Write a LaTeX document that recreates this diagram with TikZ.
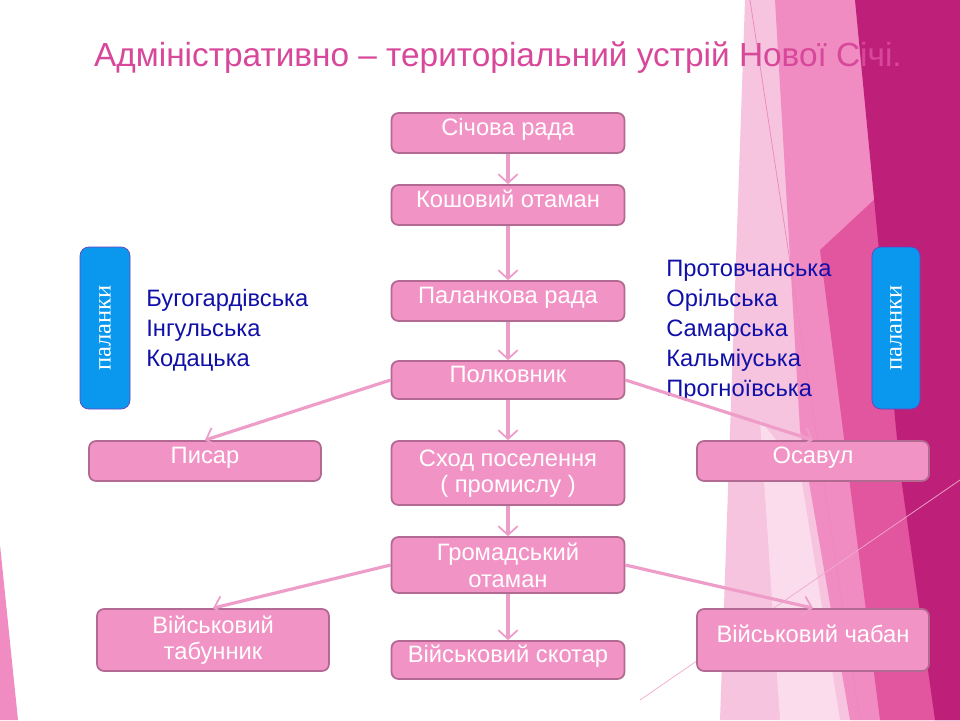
\documentclass[tikz,border=0pt]{standalone}
\usepackage{fontspec}
\setmainfont{Liberation Sans}
\newfontfamily\palfont{Liberation Serif}
\usetikzlibrary{arrows.meta}
\definecolor{boxfill}{HTML}{F293C5}
\definecolor{boxdraw}{HTML}{B36A92}
\definecolor{arr}{HTML}{EE9CC8}
\definecolor{titlec}{HTML}{D8489A}
\definecolor{listc}{HTML}{1010A8}
\definecolor{blueb}{HTML}{0A98EE}
\definecolor{pk1}{HTML}{F7C4DF}
\definecolor{pk2}{HTML}{F08CC2}
\definecolor{pk3}{HTML}{E2559F}
\definecolor{pk4}{HTML}{BE1F78}
\begin{document}
\begin{tikzpicture}[x=0.02cm,y=-0.02cm,
  box/.style={draw=boxdraw,line width=1pt,fill=boxfill,rounded corners=4pt,text=white,font=\fontsize{13.5}{15}\selectfont,align=center,inner sep=0pt},
  one/.style={text height=0.58em,text depth=0.34em},
  pal/.style={draw=boxdraw!60!blue,fill=blueb,rounded corners=5pt,text=white,font=\palfont\fontsize{14}{16}\selectfont,inner sep=0pt},
  conn/.style={draw=arr,line width=1.8pt,-{Straight Barb[length=5pt,width=11pt,line width=1pt]}},
  lst/.style={text=listc,font=\fontsize{13.5}{17}\selectfont,align=left,anchor=north west,inner sep=0pt}]
\useasboundingbox (0,0) rectangle (960,720);
% background
\fill[white] (0,0) rectangle (960,720);
\fill[pk1] (745,0) -- (960,0) -- (960,720) -- (720,720) -- cycle;
\fill[pk2] (775,0) -- (960,0) -- (960,720) -- (850,720) -- (800,430) -- cycle;
\fill[pk3] (820,250) -- (960,120) -- (960,720) -- (880,720) -- cycle;
\fill[pk4] (855,0) -- (960,0) -- (960,720) -- (935,720) -- (900,470) -- cycle;
\fill[pk1!60!white] (760,420) -- (800,470) -- (840,720) -- (780,720) -- cycle;
\draw[pk3!70!white,line width=0.4pt] (750,0) -- (860,720);
\draw[pk3!50!white,line width=0.4pt] (640,700) -- (960,480);
\fill[pk2] (0,545) -- (18,720) -- (0,720) -- cycle;
% title
\node[text=titlec,font=\fontsize{19}{22}\selectfont] (title) at (498,58) {Адміністративно – територіальний устрій Нової Січі.};
% boxes
\node[box,one,minimum width=233*0.02cm,minimum height=40*0.02cm] (sr) at (508,133) {Січова рада};
\node[box,one,minimum width=233*0.02cm,minimum height=40*0.02cm] (ko) at (508,205) {Кошовий отаман};
\node[box,one,minimum width=233*0.02cm,minimum height=40*0.02cm] (pr) at (508,301) {Паланкова рада};
\node[box,one,minimum width=233*0.02cm,minimum height=38*0.02cm] (po) at (508,380) {Полковник};
\node[box,one,minimum width=232*0.02cm,minimum height=40*0.02cm] (pys) at (205,461) {Писар};
\node[box,minimum width=233*0.02cm,minimum height=64*0.02cm] (sh) at (508,473) {\strut Сход поселення\\( промислу )};
\node[box,one,minimum width=232*0.02cm,minimum height=40*0.02cm] (os) at (813,461) {Осавул};
\node[box,minimum width=233*0.02cm,minimum height=56*0.02cm] (ho) at (508,565) {\strut Громадський\\отаман};
\node[box,minimum width=232*0.02cm,minimum height=62*0.02cm] (tab) at (213,640) {\strut Військовий\\табунник};
\node[box,one,minimum width=233*0.02cm,minimum height=38*0.02cm] (sk) at (508,660) {Військовий скотар};
\node[box,one,minimum width=232*0.02cm,minimum height=62*0.02cm] (ch) at (813,640) {Військовий чабан};
\node[pal,minimum width=50*0.02cm,minimum height=162*0.02cm] (pl) at (105,328) {};
\node[rotate=90,text=white,font=\palfont\fontsize{14}{16}\selectfont] at (pl) {паланки};
\node[pal,minimum width=48*0.02cm,minimum height=162*0.02cm] (pr2) at (896,328) {};
\node[rotate=90,text=white,font=\palfont\fontsize{14}{16}\selectfont] at (pr2) {паланки};
\node[lst] (ll) at (146,289) {Бугогардівська\\Інгульська\\Кодацька};
\node[lst] (rl) at (666,260) {Протовчанська\\Орільська\\Самарська\\Кальміуська\\Прогноївська};
% connectors
\draw[conn] (sr) -- (ko);
\draw[conn] (ko) -- (pr);
\draw[conn] (pr) -- (po);
\draw[conn] (po) -- (sh);
\draw[conn] (sh) -- (ho);
\draw[conn] (ho) -- (sk);
\draw[conn] (po.west) -- (pys.north);
\draw[conn] (po.east) -- (os.north);
\draw[conn] (ho.west) -- (tab.north);
\draw[conn] (ho.east) -- (ch.north);
\end{tikzpicture}
\end{document}
